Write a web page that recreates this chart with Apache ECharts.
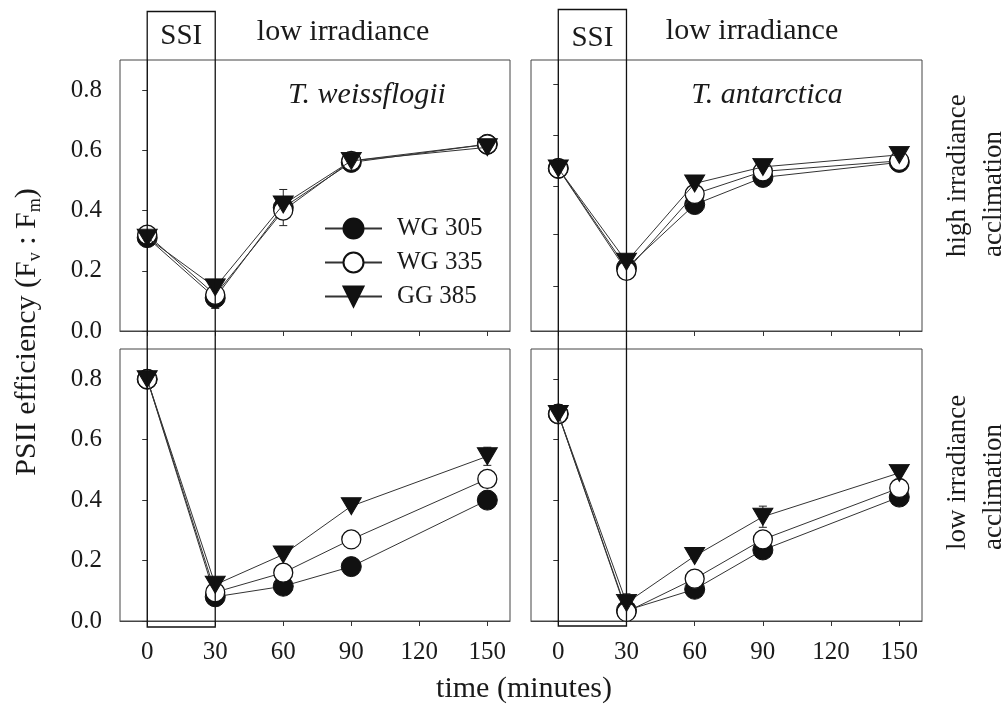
<!DOCTYPE html>
<html>
<head>
<meta charset="utf-8">
<script src="https://cdn.jsdelivr.net/npm/echarts@6/dist/echarts.min.js"></script>
<style>
  html, body { margin: 0; padding: 0; background: #fff; }
  #chart { width: 1003px; height: 715px; }
</style>
</head>
<body>
<div id="chart"></div>
<script>
// Sampling times (minutes) and filter treatments
const times = [0, 30, 60, 90, 150];
const seriesNames = ['WG 305', 'WG 335', 'GG 385'];
const xTicks = [0, 30, 60, 90, 120, 150];
const yTicks = [0, 0.2, 0.4, 0.6, 0.8];
const antHighTicks = [0.15, 0.32, 0.48, 0.65, 0.82];
const ssiInterval = [0, 30];

// T. weissflogii, high irradiance acclimation
const weissHigh305 = [0.31, 0.11, 0.41, 0.56, 0.62];
const weissHigh335 = [0.32, 0.12, 0.40, 0.565, 0.62];
const weissHigh385 = [0.31, 0.145, 0.42, 0.565, 0.61];
// T. antarctica, high irradiance acclimation
const antHigh305 = [0.54, 0.21, 0.42, 0.51, 0.56];
const antHigh335 = [0.54, 0.20, 0.455, 0.53, 0.565];
const antHigh385 = [0.54, 0.23, 0.49, 0.545, 0.585];
// T. weissflogii, low irradiance acclimation
const weissLow305 = [0.80, 0.08, 0.115, 0.18, 0.40];
const weissLow335 = [0.80, 0.095, 0.16, 0.27, 0.47];
const weissLow385 = [0.80, 0.12, 0.22, 0.38, 0.545];
// T. antarctica, low irradiance acclimation
const antLow305 = [0.685, 0.035, 0.105, 0.235, 0.41];
const antLow335 = [0.685, 0.03, 0.14, 0.27, 0.44];
const antLow385 = [0.685, 0.06, 0.215, 0.345, 0.49];

// Standard deviations (0 = not shown)
const weissHighErr305 = [0, 0, 0.06, 0, 0];
const weissHighErr335 = [0, 0.045, 0, 0, 0];
const weissHighErr385 = [0, 0, 0, 0.025, 0];
const weissLowErr385 = [0, 0, 0, 0, 0.03];
const antLowErr385 = [0, 0.03, 0, 0.035, 0];

const FONT = 'Liberation Serif, Times New Roman, serif';
const INK = '#1a1a1a';
const FRAME = '#444';

const chart = echarts.init(document.getElementById('chart'), null, { renderer: 'canvas' });

const grids = [
  { left: 120, top: 60, width: 390, height: 271 },   // top-left
  { left: 531, top: 60, width: 391, height: 271 },   // top-right
  { left: 120, top: 349, width: 390, height: 272 },  // bottom-left
  { left: 531, top: 349, width: 391, height: 272 }   // bottom-right
].map(g => Object.assign({ show: true, borderColor: FRAME, borderWidth: 1, backgroundColor: 'transparent' }, g));

function xAxis(gi, showLabels) {
  return {
    type: 'value', gridIndex: gi, min: -12, max: 160,
    axisLine: { show: true, lineStyle: { color: FRAME, width: 1 } },
    axisTick: { show: true, inside: false, length: 5, customValues: xTicks, lineStyle: { color: '#333', width: 1 } },
    axisLabel: { show: showLabels, customValues: xTicks, margin: 19, fontSize: 25, fontFamily: FONT, color: INK },
    splitLine: { show: false }
  };
}
function yAxis(gi, showLabels, ticks) {
  return {
    type: 'value', gridIndex: gi, min: 0, max: 0.9,
    axisLine: { show: true, lineStyle: { color: FRAME, width: 1 } },
    axisTick: { show: true, inside: false, length: 5, customValues: ticks, lineStyle: { color: '#333', width: 1 } },
    axisLabel: { show: showLabels, customValues: ticks, margin: 18, fontSize: 25, fontFamily: FONT, color: INK,
                 formatter: v => v.toFixed(1) },
    splitLine: { show: false }
  };
}

const markerStyles = [
  { symbol: 'circle', symbolSize: 20, symbolRotate: 0, itemStyle: { color: '#111', borderColor: '#111', borderWidth: 1 } },
  { symbol: 'circle', symbolSize: 19, symbolRotate: 0, itemStyle: { color: '#fff', borderColor: '#111', borderWidth: 1.3 } },
  { symbol: 'triangle', symbolSize: [20, 17], symbolRotate: 180, itemStyle: { color: '#111', borderColor: '#111', borderWidth: 1 } }
];

function lineSeries(k, gi, values) {
  const m = markerStyles[k];
  return {
    type: 'line', name: seriesNames[k], xAxisIndex: gi, yAxisIndex: gi,
    data: times.map((t, i) => [t, values[i]]),
    symbol: m.symbol, symbolSize: m.symbolSize, symbolRotate: m.symbolRotate,
    showAllSymbol: true,
    itemStyle: m.itemStyle,
    lineStyle: { color: '#333', width: 1 },
    emphasis: { disabled: true },
    z: 3 + k
  };
}

function errorSeries(gi, values, errs) {
  const data = times.map((t, i) => [t, values[i], errs[i]]).filter(d => d[2] > 0);
  return {
    type: 'custom', xAxisIndex: gi, yAxisIndex: gi, data, z: 1, silent: true,
    renderItem(params, api) {
      const x = api.value(0), m = api.value(1), e = api.value(2);
      const top = api.coord([x, m + e]);
      const bot = api.coord([x, m - e]);
      const half = 4;
      const st = { stroke: '#222', lineWidth: 1 };
      return {
        type: 'group',
        children: [
          { type: 'line', shape: { x1: top[0], y1: top[1], x2: bot[0], y2: bot[1] }, style: st },
          { type: 'line', shape: { x1: top[0] - half, y1: top[1], x2: top[0] + half, y2: top[1] }, style: st },
          { type: 'line', shape: { x1: bot[0] - half, y1: bot[1], x2: bot[0] + half, y2: bot[1] }, style: st }
        ]
      };
    }
  };
}

const panels = [
  [weissHigh305, weissHigh335, weissHigh385],
  [antHigh305, antHigh335, antHigh385],
  [weissLow305, weissLow335, weissLow385],
  [antLow305, antLow335, antLow385]
];

const series = [];
panels.forEach((vals, gi) => vals.forEach((v, k) => series.push(lineSeries(k, gi, v))));
series.push(errorSeries(0, weissHigh305, weissHighErr305));
series.push(errorSeries(0, weissHigh335, weissHighErr335));
series.push(errorSeries(0, weissHigh385, weissHighErr385));
series.push(errorSeries(2, weissLow385, weissLowErr385));
series.push(errorSeries(3, antLow385, antLowErr385));

const option = {
  animation: false,
  backgroundColor: '#fff',
  grid: grids,
  xAxis: [xAxis(0, false), xAxis(1, false), xAxis(2, true), xAxis(3, true)],
  yAxis: [yAxis(0, true, yTicks), yAxis(1, false, antHighTicks), yAxis(2, true, yTicks), yAxis(3, false, yTicks)],
  legend: {
    data: seriesNames,
    orient: 'vertical',
    left: 319, top: 211,
    itemWidth: 57, itemHeight: 25, itemGap: 9,
    symbolRotate: 'inherit',
    selectedMode: false,
    textStyle: { fontSize: 25, fontFamily: FONT, color: INK, padding: [0, 0, 0, 10] }
  },
  series
};
chart.setOption(option);

// Panel annotations and the SSI exposure windows
const txt = (text, x, y, size, extra) => ({
  type: 'text', x, y, silent: true, z: 100,
  style: Object.assign({ text, fontSize: size, fontFamily: FONT, fill: INK, align: 'center', verticalAlign: 'middle' }, extra || {})
});

const graphics = [];
[[0, 2, 11.5, 627], [1, 3, 9.5, 626]].forEach(([topGrid, botGrid, yTop, yBot]) => {
  const x0 = chart.convertToPixel({ xAxisIndex: topGrid }, ssiInterval[0]);
  const x1 = chart.convertToPixel({ xAxisIndex: topGrid }, ssiInterval[1]);
  graphics.push({
    type: 'rect', silent: true, z: 50,
    shape: { x: x0, y: yTop, width: x1 - x0, height: yBot - yTop },
    style: { fill: 'none', stroke: '#111', lineWidth: 1.3 }
  });
});

const lx0 = chart.convertToPixel({ xAxisIndex: 0 }, ssiInterval[0]);
const lx1 = chart.convertToPixel({ xAxisIndex: 0 }, ssiInterval[1]);
const rx0 = chart.convertToPixel({ xAxisIndex: 1 }, ssiInterval[0]);
const rx1 = chart.convertToPixel({ xAxisIndex: 1 }, ssiInterval[1]);

graphics.push(txt('SSI', (lx0 + lx1) / 2, 36, 29));
graphics.push(txt('SSI', (rx0 + rx1) / 2, 38, 29));
graphics.push(txt('low irradiance', 343, 32, 30));
graphics.push(txt('low irradiance', 752, 31, 30));
graphics.push(txt('T. weissflogii', 367, 95, 30, { fontStyle: 'italic' }));
graphics.push(txt('T. antarctica', 767, 95, 30, { fontStyle: 'italic' }));
graphics.push(txt('time (minutes)', 524, 689, 30));
graphics.push({
  type: 'text', x: 27, y: 332, rotation: Math.PI / 2, silent: true, z: 100,
  style: {
    text: '{m|PSII efficiency (F}{s|v}{m| : F}{s|m}{m|)}',
    align: 'center', verticalAlign: 'middle', fill: INK,
    rich: {
      m: { fontSize: 30, fontFamily: FONT, fill: INK, lineHeight: 34, verticalAlign: 'middle' },
      s: { fontSize: 18, fontFamily: FONT, fill: INK, lineHeight: 34, verticalAlign: 'bottom', padding: [12, 0, 0, 0] }
    }
  }
});
const side = (text, x, y) => txt(text, x, y, 27, { align: 'left' });
[['high irradiance', 958, 257], ['acclimation', 994, 257], ['low irradiance', 958, 550], ['acclimation', 994, 550]]
  .forEach(([t, x, y]) => graphics.push(Object.assign(side(t, x, y), { rotation: Math.PI / 2 })));

chart.setOption({ graphic: graphics });
</script>
</body>
</html>
